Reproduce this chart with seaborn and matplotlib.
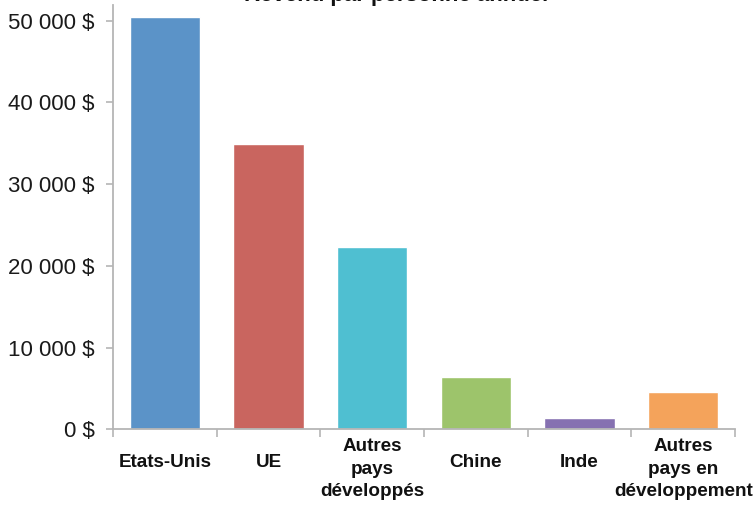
import matplotlib
matplotlib.use("Agg")
import matplotlib.pyplot as plt
import matplotlib.transforms as mtransforms
from matplotlib import font_manager
from matplotlib.ticker import FixedLocator, FuncFormatter
import seaborn as sns
import pandas as pd

categories = ["Etats-Unis", "UE", "Autres\npays\ndéveloppés", "Chine", "Inde",
              "Autres\npays en\ndéveloppement"]
values = [50400, 34900, 22300, 6450, 1420, 4600]
colors = ["#5b93c8", "#c9655f", "#4fbfd1", "#9dc46b", "#8671b1", "#f4a35b"]
yticks = [0, 10000, 20000, 30000, 40000, 50000]
title = "Revenu par personne annuel"

sns.set_theme(style="white")
plt.rcParams["font.family"] = ["Liberation Sans", "DejaVu Sans"]

xfont = font_manager.FontProperties(family=["Liberation Sans", "DejaVu Sans"],
                                    weight="bold", size=13.6)

df = pd.DataFrame({"cat": categories, "val": values})

fig = plt.figure(figsize=(7.56, 5.09), dpi=100)
ax = fig.add_axes([113 / 756, 1 - 429.3 / 509, (735 - 113) / 756, (429.3 - 5) / 509])

sns.barplot(data=df, x="cat", y="val", hue="cat", palette=colors, legend=False,
            width=0.68, saturation=1, ax=ax)

ax.set_xlim(-0.5, 5.5)
ax.set_ylim(0, 51920)
ax.set_xlabel("")
ax.set_ylabel("")

for s in ["top", "right"]:
    ax.spines[s].set_visible(False)
for s in ["left", "bottom"]:
    ax.spines[s].set_color("#b5b5b5")
    ax.spines[s].set_linewidth(1.3)

ax.set_yticks(yticks)
ax.yaxis.set_major_formatter(FuncFormatter(lambda v, p: f"{int(v):,}".replace(",", " ") + " $"))
ax.tick_params(axis="y", left=True, length=5, width=1.2, color="#b5b5b5",
               labelsize=16, labelcolor="#1a1a1a", pad=8)

# category labels at centers, tick marks at boundaries
ax.set_xticks(range(len(categories)))
ax.set_xticklabels(categories)
ax.xaxis.set_minor_locator(FixedLocator([i - 0.5 for i in range(len(categories) + 1)]))
ax.tick_params(axis="x", which="major", length=0, pad=6.5, labelcolor="#111111")
ax.tick_params(axis="x", which="minor", bottom=True, length=6, width=1.2, color="#b5b5b5")
for lab in ax.get_xticklabels():
    lab.set_fontproperties(xfont)
    lab.set_linespacing(1.42)
    if "\n" not in lab.get_text():
        lab.set_transform(lab.get_transform() +
                          mtransforms.ScaledTranslation(0, -16 / 100, fig.dpi_scale_trans))

tfont = xfont.copy()
tfont.set_size(16)
fig.text(396 / 756, 1 - 1 / 509, title, ha="center", va="baseline",
         color="#111111", fontproperties=tfont)

fig.savefig("out.png", dpi=100, facecolor="white")
